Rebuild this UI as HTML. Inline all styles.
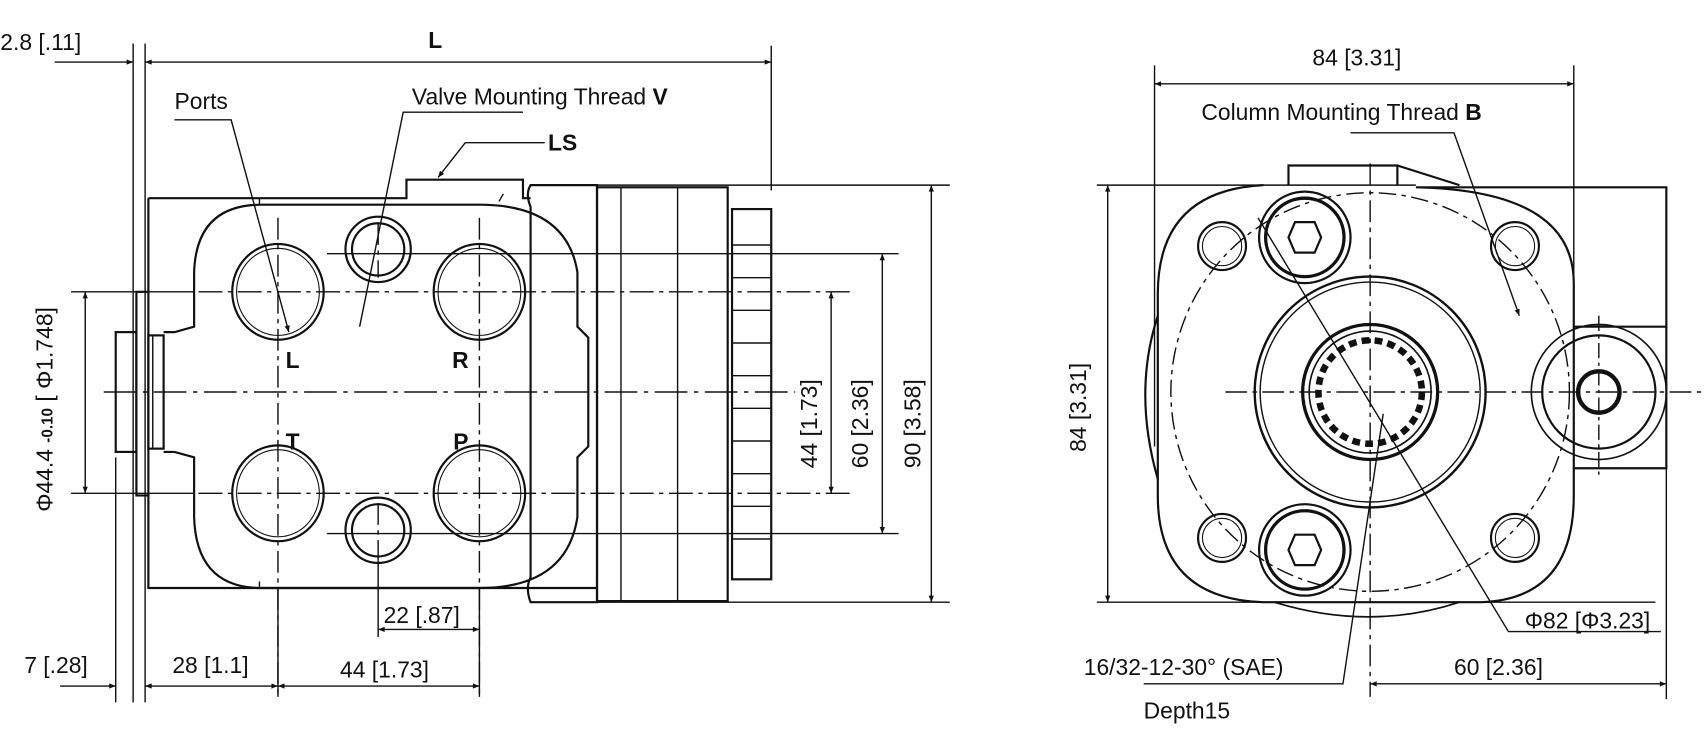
<!DOCTYPE html>
<html><head><meta charset="utf-8"><style>
html,body{margin:0;padding:0;background:#fff}
svg{display:block}
text{font-family:"Liberation Sans",sans-serif;fill:#111}
.t{font-size:21px}
.b{font-size:21px;font-weight:bold}
</style></head><body>
<svg width="1708" height="747" viewBox="0 0 1568 686" xmlns="http://www.w3.org/2000/svg">
<defs>
<marker id="a" viewBox="0 0 10 10" refX="10" refY="5" markerWidth="12" markerHeight="6" orient="auto-start-reverse" markerUnits="userSpaceOnUse"><path d="M0,1 L10,5 L0,9z" fill="#111"/></marker>
</defs>
<g fill="none" stroke="#111" stroke-width="1.3">
<line x1="122" y1="40" x2="122" y2="645"/>
<line x1="133" y1="40" x2="133" y2="645"/>
<line x1="708" y1="42" x2="708" y2="175"/>
<line x1="106" y1="420" x2="106" y2="645"/>
<line x1="255" y1="540" x2="255" y2="640"/>
<line x1="440" y1="540" x2="440" y2="640"/>
<line x1="347" y1="515" x2="347" y2="585"/>
<line x1="133" y1="57" x2="708" y2="57" marker-start="url(#a)" marker-end="url(#a)"/>
<line x1="50" y1="57" x2="122" y2="57" marker-end="url(#a)"/>
<line x1="55" y1="630" x2="106" y2="630" marker-end="url(#a)"/>
<line x1="133" y1="630" x2="255" y2="630" marker-start="url(#a)" marker-end="url(#a)"/>
<line x1="255" y1="630" x2="440" y2="630" marker-start="url(#a)" marker-end="url(#a)"/>
<line x1="347" y1="578" x2="440" y2="578" marker-start="url(#a)" marker-end="url(#a)"/>
<line x1="65" y1="268" x2="178" y2="268"/><line x1="65" y1="453" x2="178" y2="453"/>
<line x1="78" y1="268" x2="78" y2="453" marker-start="url(#a)" marker-end="url(#a)"/>
<line x1="300" y1="233" x2="825" y2="233"/><line x1="300" y1="490" x2="825" y2="490"/>
<line x1="182" y1="268" x2="780" y2="268" stroke-dasharray="22 5 4 5"/>
<line x1="182" y1="453" x2="780" y2="453" stroke-dasharray="22 5 4 5"/>
<line x1="763" y1="268" x2="763" y2="453" marker-start="url(#a)" marker-end="url(#a)"/>
<line x1="810" y1="233" x2="810" y2="490" marker-start="url(#a)" marker-end="url(#a)"/>
<line x1="487" y1="170" x2="872" y2="170"/><line x1="548" y1="553" x2="872" y2="553"/>
<line x1="855" y1="170" x2="855" y2="553" marker-start="url(#a)" marker-end="url(#a)"/>
<line x1="95" y1="360" x2="730" y2="360" stroke-dasharray="30 6 4 6"/>
<path d="M136 182 H373 V165 H480 V182 H487" stroke-width="2"/>
<path d="M136 182 V268 M136 453 V540 H548" stroke-width="2"/>
<path d="M238 182 V188 M238 540 V534"/>
<path d="M150 305 H160 L178 300 V250 Q180 188 240 188 H440 Q520 188 530 250 V300 L540 310 V410 L530 420 V475 Q520 540 440 540 H240 Q180 540 178 475 V420 L160 415 H150" stroke-width="2"/>
<path d="M487 170 H548 V553 H487 Q482 540 487 530 V190 Q482 178 487 170 Z" stroke-width="2"/>
<rect x="548" y="172" width="120" height="380" stroke-width="2"/>
<line x1="570" y1="172" x2="570" y2="552"/><line x1="622" y1="172" x2="622" y2="552"/>
<rect x="672" y="192" width="36" height="340" stroke-width="2"/>
<line x1="668" y1="195" x2="668" y2="530"/>
<path d="M672 225H708M672 255H708M672 285H708M672 315H708M672 345H708M672 375H708M672 405H708M672 435H708M672 465H708M672 495H708"/>
<rect x="125" y="268" width="11" height="187" stroke-width="2"/>
<rect x="106" y="305" width="19" height="110" stroke-width="2"/>
<rect x="136" y="308" width="14" height="104" stroke-width="2"/>
<line x1="140" y1="308" x2="140" y2="412"/>
<g stroke-width="2">
<ellipse cx="255" cy="268" rx="42" ry="44"/><ellipse cx="255" cy="268" rx="38" ry="40" stroke-width="1"/>
<ellipse cx="440" cy="268" rx="42" ry="44"/><ellipse cx="440" cy="268" rx="38" ry="40" stroke-width="1"/>
<ellipse cx="255" cy="453" rx="42" ry="44"/><ellipse cx="255" cy="453" rx="38" ry="40" stroke-width="1"/>
<ellipse cx="440" cy="453" rx="42" ry="44"/><ellipse cx="440" cy="453" rx="38" ry="40" stroke-width="1"/>
<circle cx="347" cy="229" r="30"/><circle cx="347" cy="229" r="24"/>
<circle cx="347" cy="487" r="30"/><circle cx="347" cy="487" r="24"/>
</g>
<path d="M255 200 V640 M440 200 V640 M347 205 V255 M347 462 V515" stroke-dasharray="20 5 4 5"/>
<path d="M160 110 H212 L265 305" marker-end="url(#a)"/>
<path d="M480 103 H370 L330 300" />
<path d="M500 131 H427 L402 163" marker-end="url(#a)"/>
<path d="M458 185 L462 178"/>
<line x1="1060" y1="60" x2="1060" y2="410"/>
<line x1="1445" y1="60" x2="1445" y2="300"/>
<line x1="1060" y1="77" x2="1445" y2="77" marker-start="url(#a)" marker-end="url(#a)"/>
<line x1="1007" y1="170" x2="1300" y2="170"/>
<line x1="1007" y1="553" x2="1520" y2="553"/>
<line x1="1017" y1="170" x2="1017" y2="553" marker-start="url(#a)" marker-end="url(#a)"/>
<path d="M1160 170 Q1063 175 1063 270 V455 Q1063 550 1160 553 H1360 Q1445 550 1445 455 V300 H1530 V172 H1300 Q1445 175 1445 260 V300" stroke-width="2"/>
<path d="M1445 430 H1530 V300" stroke-width="2"/>
<path d="M1063 290 Q1040 360 1063 440" stroke-width="2"/>
<path d="M1183 170 V152 H1283 V170 M1283 152 L1340 170" stroke-width="2"/>
<path d="M1170 553 Q1258 580 1340 553" stroke-width="1.5"/>
<circle cx="1258" cy="360" r="183" stroke-dasharray="16 5 4 5"/>
<circle cx="1258" cy="360" r="106" stroke-width="2.2"/><circle cx="1258" cy="360" r="101"/>
<circle cx="1258" cy="360" r="62" stroke-width="3"/><circle cx="1258" cy="360" r="56" stroke-width="1.5"/>
<circle cx="1258" cy="360" r="46" stroke-width="9" stroke-dasharray="7 4.6"/>
<circle cx="1258" cy="360" r="42" stroke="#fff" stroke-width="5" fill="#fff"/>
<circle cx="1468" cy="360" r="62" stroke-width="1.5"/><circle cx="1468" cy="360" r="52" stroke-width="2"/>
<circle cx="1468" cy="360" r="19" stroke-width="4"/>
<g stroke-width="2">
<circle cx="1198" cy="218" r="42"/><circle cx="1198" cy="218" r="36" stroke-width="3"/>
<circle cx="1198" cy="505" r="42"/><circle cx="1198" cy="505" r="36" stroke-width="3"/>
<polygon points="1189,204 1207,204 1213,218 1207,232 1189,232 1183,218"/>
<polygon points="1189,491 1207,491 1213,505 1207,519 1189,519 1183,505"/>
<circle cx="1122" cy="226" r="22"/><circle cx="1122" cy="226" r="18" stroke-width="1"/>
<circle cx="1391" cy="226" r="22"/><circle cx="1391" cy="226" r="18" stroke-width="1"/>
<circle cx="1122" cy="494" r="22"/><circle cx="1122" cy="494" r="18" stroke-width="1"/>
<circle cx="1391" cy="494" r="22"/><circle cx="1391" cy="494" r="18" stroke-width="1"/>
</g>
<line x1="1258" y1="150" x2="1258" y2="640" stroke-dasharray="20 5 4 5"/>
<line x1="1125" y1="360" x2="1565" y2="360" stroke-dasharray="20 5 4 5"/>
<line x1="1468" y1="290" x2="1468" y2="440" stroke-dasharray="14 4 3 4"/>
<line x1="1530" y1="430" x2="1530" y2="642"/>
<line x1="1258" y1="628" x2="1530" y2="628" marker-start="url(#a)" marker-end="url(#a)"/>
<path d="M1240 122 H1335 L1395 290" marker-end="url(#a)"/>
<path d="M1155 200 L1385 580 H1525"/>
<path d="M1050 628 H1233 L1270 380"/>
</g>
<text class="t" x="0" y="46">2.8 [.11]</text>
<text class="b" x="393" y="44">L</text>
<text class="t" x="160" y="100">Ports</text>
<text class="t" x="378" y="96">Valve Mounting Thread <tspan font-weight="bold">V</tspan></text>
<text class="b" x="503" y="138">LS</text>
<text class="b" x="262" y="338">L</text>
<text class="b" x="415" y="338">R</text>
<text class="b" x="262" y="413">T</text>
<text class="b" x="416" y="413">P</text>
<text class="t" x="352" y="572">22 [.87]</text>
<text class="t" x="22" y="618">7 [.28]</text>
<text class="t" x="158" y="618">28 [1.1]</text>
<text class="t" x="312" y="622">44 [1.73]</text>
<text class="t" transform="translate(48,470) rotate(-90)">Φ44.4 <tspan font-size="14" font-weight="bold">-0.10</tspan> [ Φ1.748]</text>
<text class="t" transform="translate(750,430) rotate(-90)">44 [1.73]</text>
<text class="t" transform="translate(797,430) rotate(-90)">60 [2.36]</text>
<text class="t" transform="translate(845,430) rotate(-90)">90 [3.58]</text>
<text class="t" x="1205" y="60">84 [3.31]</text>
<text class="t" x="1103" y="110">Column Mounting Thread <tspan font-weight="bold">B</tspan></text>
<text class="t" transform="translate(997,415) rotate(-90)">84 [3.31]</text>
<text class="t" x="1400" y="577">Φ82 [Φ3.23]</text>
<text class="t" x="995" y="620">16/32-12-30° (SAE)</text>
<text class="t" x="1050" y="660">Depth15</text>
<text class="t" x="1335" y="620">60 [2.36]</text>
</svg>
</body></html>
